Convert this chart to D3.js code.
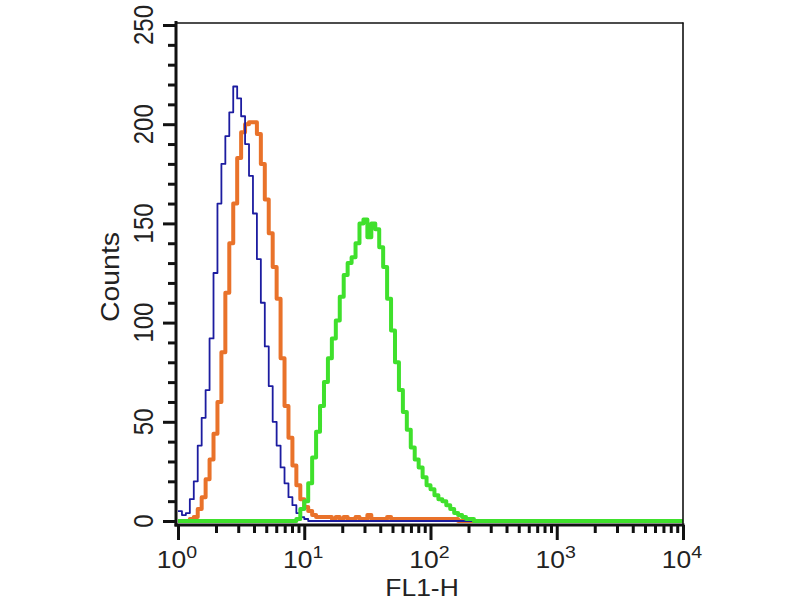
<!DOCTYPE html>
<html>
<head>
<meta charset="utf-8">
<script src="https://cdn.jsdelivr.net/npm/d3@7"></script>
<style>
  html, body { margin: 0; padding: 0; background: #fff; }
  svg { display: block; }
  text { font-family: "Liberation Sans", Arial, Helvetica, sans-serif; fill: #222; }
</style>
</head>
<body>
<svg id="chart" width="800" height="600"></svg>
<script>
// ---- data (histogram counts per channel, 32 channels per decade, 128 channels over 10^0..10^4)
const channelsPerDecade = 32;
const blueCounts = [5,3,4,11,20,38,52,66,92,125,160,180,194,206,219,213,204,190,174,155,132,110,88,68,50,38,27,19,12,8,4,2,1,0,0,0,0,0,0,0,
  0,0,0,0,0,0,0,0,0,0,0,0,0,0,0,0,0,0,0,0,0,0,0,0,0,0,0,0,0,0,0,0,0,0,0,0,0,0,0,0,
  0,0,0,0,0,0,0,0,0,0,0,0,0,0,0,0,0,0,0,0,0,0,0,0,0,0,0,0,0,0,0,0,0,0,0,0,0,0,0,0,0,0,0,0,0,0,0,0];
const orangeCounts = [0,0,0,1,2,6,12,21,31,44,60,85,115,140,160,183,196,200,201,201,195,180,162,145,128,112,82,58,42,28,18,11,7,5,3,2,2,2,2,1,
  2,1,2,1,1,2,1,1,3,1,1,1,1,2,1,1,1,1,1,1,1,1,1,1,1,1,1,1,1,1,1,0,0,0,0,0,0,0,0,0,
  0,0,0,0,0,0,0,0,0,0,0,0,0,0,0,0,0,0,0,0,0,0,0,0,0,0,0,0,0,0,0,0,0,0,0,0,0,0,0,0,0,0,0,0,0,0,0,0];
const greenCounts = [0,0,0,0,0,0,0,0,0,0,0,0,0,0,0,0,0,0,0,0,0,0,0,0,0,0,0,0,0,0,1,6,10,19,32,45,58,70,82,92,
  101,113,124,130,133,140,150,152,143,150,147,138,128,112,96,80,66,55,46,37,31,27,22,18,16,13,11,10,8,6,4,3,2,1,1,0,0,0,0,0,
  0,0,0,0,0,0,0,0,0,0,0,0,0,0,0,0,0,0,0,0,0,0,0,0,0,0,0,0,0,0,0,0,0,0,0,0,0,0,0,0,0,0,0,0,0,0,0,0];
const yMajorTicks = [0, 50, 100, 150, 200, 250];
const yMinorTicks = [10,20,30,40,60,70,80,90,110,120,130,140,160,170,180,190,210,220,230,240];
const xMajorTicks = [1, 10, 100, 1000, 10000];
const xMajorExponents = ["0", "1", "2", "3", "4"];
const xMinorTicks = [2,3,4,5,6,7,8,9,20,30,40,50,60,70,80,90,200,300,400,500,600,700,800,900,2000,3000,4000,5000,6000,7000,8000,9000];
const series = [
  { name: "orange", counts: orangeCounts, color: "#e9722a", width: 4 },
  { name: "blue",   counts: blueCounts,   color: "#1c1ca0", width: 1.8 },
  { name: "green",  counts: greenCounts,  color: "#3fe02c", width: 4 }
];
const xTitle = "FL1-H";
const yTitle = "Counts";

// ---- layout
const svg = d3.select("#chart");
const x = d3.scaleLog().domain([1, 10000]).range([178, 683]);
const y = d3.scaleLinear().domain([0, 250]).range([521, 25]);
const axisY = 525;
const stretch = 1.15;

// ---- curves
const line = d3.line()
  .x(d => x(d.v))
  .y(d => y(d.c))
  .curve(d3.curveStepAfter);

series.forEach(s => {
  const pts = s.counts.map((c, i) => ({ v: Math.pow(10, i / channelsPerDecade), c }));
  pts.push({ v: 10000, c: s.counts[s.counts.length - 1] });
  svg.append("path")
    .attr("d", line(pts))
    .attr("fill", "none")
    .attr("stroke", s.color)
    .attr("stroke-width", s.width)
    .attr("stroke-linejoin", "round");
});

// ---- frame (thin top/right)
svg.append("line").attr("x1", 176).attr("x2", 683.5).attr("y1", 23).attr("y2", 23)
  .attr("stroke", "#111").attr("stroke-width", 1.6);
svg.append("line").attr("x1", 683).attr("x2", 683).attr("y1", 22.5).attr("y2", axisY)
  .attr("stroke", "#111").attr("stroke-width", 1.6);

// ---- y axis
const gy = svg.append("g");
gy.append("g").attr("transform", "translate(176,0)")
  .call(d3.axisLeft(y).tickValues(yMajorTicks).tickSize(13).tickFormat(""))
  .call(g => g.select(".domain").remove());
gy.append("g").attr("transform", "translate(176,0)")
  .call(d3.axisLeft(y).tickValues(yMinorTicks).tickSize(8).tickFormat(""))
  .call(g => g.select(".domain").remove());
gy.selectAll(".tick line").attr("stroke", "#111").attr("stroke-width", 3);
gy.append("line").attr("x1", 176).attr("x2", 176).attr("y1", 21).attr("y2", axisY + 1.5)
  .attr("stroke", "#111").attr("stroke-width", 3);

gy.selectAll("text.ylab").data(yMajorTicks).join("text")
  .attr("class", "ylab")
  .attr("transform", d => `translate(153,${y(d)}) scale(${stretch},1) rotate(-90)`)
  .attr("text-anchor", "middle")
  .attr("font-size", 24)
  .text(d => d);

// ---- x axis
const gx = svg.append("g");
gx.append("g").attr("transform", `translate(0,${axisY})`)
  .call(d3.axisBottom(x).tickValues(xMajorTicks).tickSize(15).tickFormat(""))
  .call(g => g.select(".domain").remove());
gx.append("g").attr("transform", `translate(0,${axisY})`)
  .call(d3.axisBottom(x).tickValues(xMinorTicks).tickSize(8).tickFormat(""))
  .call(g => g.select(".domain").remove());
gx.selectAll(".tick line").attr("stroke", "#111").attr("stroke-width", 3);
gx.append("line").attr("x1", 174.5).attr("x2", 684.5).attr("y1", axisY).attr("y2", axisY)
  .attr("stroke", "#111").attr("stroke-width", 3);

const xl = gx.selectAll("text.xlab").data(xMajorTicks).join("text")
  .attr("class", "xlab")
  .attr("transform", d => `translate(${x(d) - 1},568) scale(${stretch},1)`)
  .attr("text-anchor", "middle")
  .attr("font-size", 23);
xl.append("tspan").text("10");
xl.append("tspan").attr("dy", -10).attr("font-size", 17).text((d, i) => xMajorExponents[i]);

// ---- titles
svg.append("text")
  .attr("transform", `translate(422,596) scale(${stretch},1)`)
  .attr("text-anchor", "middle")
  .attr("font-size", 23)
  .text(xTitle);
svg.append("text")
  .attr("transform", `translate(119,277) scale(${stretch},1) rotate(-90)`)
  .attr("text-anchor", "middle")
  .attr("font-size", 23)
  .attr("textLength", 90)
  .attr("lengthAdjust", "spacingAndGlyphs")
  .text(yTitle);
</script>
</body>
</html>
